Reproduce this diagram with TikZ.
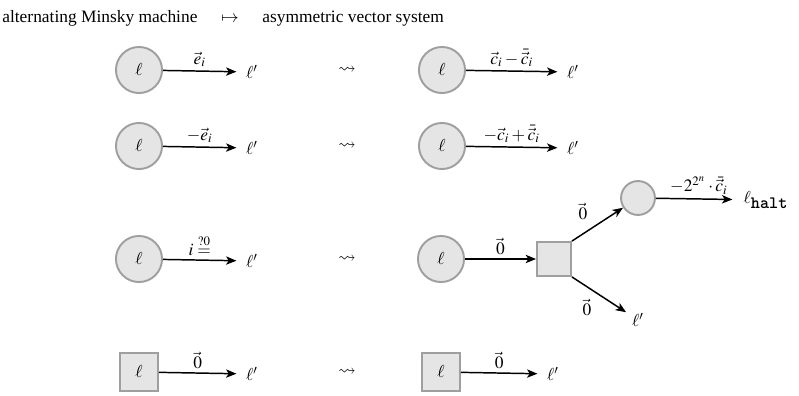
\documentclass[tikz,border=0pt]{standalone}
\usepackage{amsmath}
\usepackage{amssymb}
\usepackage{mathptmx}
\usepackage{fontspec}
\setmainfont{Liberation Serif}
\usetikzlibrary{arrows.meta}
\tikzset{
  st/.style={circle, draw=gray!75, fill=gray!20, line width=1.1pt, minimum size=26.5pt, inner sep=0pt},
  sq/.style={rectangle, draw=gray!75, fill=gray!20, line width=1.1pt, minimum size=21.9pt, inner sep=0pt},
  sqs/.style={rectangle, draw=gray!75, fill=gray!20, line width=1.1pt, minimum size=19.5pt, inner sep=0pt},
  stsm/.style={circle, draw=gray!75, fill=gray!20, line width=1.1pt, minimum size=19.5pt, inner sep=0pt},
  tgt/.style={inner sep=1pt, outer sep=4.6pt},
  arr/.style={-{Stealth[length=6pt,width=4.8pt,inset=1.6pt]}, line width=0.85pt},
  lab/.style={inner sep=2pt},
}
\begin{document}
\begin{tikzpicture}[x=0.575pt, y=-0.575pt]
\useasboundingbox (0,0) rectangle (799,396);
% header
\node[anchor=base west, inner sep=0pt] (h1) at (2,22) {alternating Minsky machine};
\node[anchor=base, inner sep=0pt] (h2) at (230,22) {$\mapsto$};
\node[anchor=base west, inner sep=0pt] (h3) at (262,22) {asymmetric vector system};

% row 1
\node[st] (a1) at (139,70) {$\ell$};
\node[tgt] (a1t) at (252,72) {$\ell'$};
\draw[arr] (a1) -- node[above, lab] {$\vec{e}_i$} (a1t);
\node (s1) at (347,70) {$\leadsto$};
\node[st] (b1) at (442,70) {$\ell$};
\node[tgt] (b1t) at (573,72) {$\ell'$};
\draw[arr] (b1) -- node[above, lab] {$\vec{c}_i - \bar{\vec{c}}_i$} (b1t);

% row 2
\node[st] (a2) at (139,146) {$\ell$};
\node[tgt] (a2t) at (252,148) {$\ell'$};
\draw[arr] (a2) -- node[above, lab] {$-\vec{e}_i$} (a2t);
\node (s2) at (347,146) {$\leadsto$};
\node[st] (b2) at (442,146) {$\ell$};
\node[tgt] (b2t) at (573,148) {$\ell'$};
\draw[arr] (b2) -- node[above, lab] {$-\vec{c}_i + \bar{\vec{c}}_i$} (b2t);

% row 3
\node[st] (a3) at (139,259) {$\ell$};
\node[tgt] (a3t) at (252,261) {$\ell'$};
\draw[arr] (a3) -- node[above, lab] {$i \stackrel{?0}{=}$} (a3t);
\node (s3) at (347,259) {$\leadsto$};
\node[st] (b3) at (441,259) {$\ell$};
\node[sqs] (q3) at (554,259) {};
\draw[arr] (b3) -- node[above, lab] {$\vec{0}$} (q3);
\node[stsm] (c3) at (638,198) {};
\draw[arr] (q3.north east) -- node[above left, lab, pos=0.45, xshift=-2pt, yshift=1pt] {$\vec{0}$} (c3);
\node[tgt, outer sep=2.5pt] (d3) at (638,320) {$\ell'$};
\draw[arr] (q3.south east) -- node[below left, lab, pos=0.5, xshift=-2pt] {$\vec{0}$} (d3);
\node[tgt, anchor=west, outer sep=0pt] (h3t) at (742,200) {$\ell_{\mbox{\ttfamily\bfseries halt}}$};
\draw[arr, shorten >=5.5pt] (c3) -- node[above, lab] {$-2^{2^n}\cdot\bar{\vec{c}}_i$} (h3t);

% row 4
\node[sq] (a4) at (139,372) {$\ell$};
\node[tgt] (a4t) at (252,374) {$\ell'$};
\draw[arr] (a4) -- node[above, lab] {$\vec{0}$} (a4t);
\node (s4) at (347,372) {$\leadsto$};
\node[sq] (b4) at (441,372) {$\ell$};
\node[tgt] (b4t) at (553,374) {$\ell'$};
\draw[arr] (b4) -- node[above, lab] {$\vec{0}$} (b4t);
\end{tikzpicture}
\end{document}
